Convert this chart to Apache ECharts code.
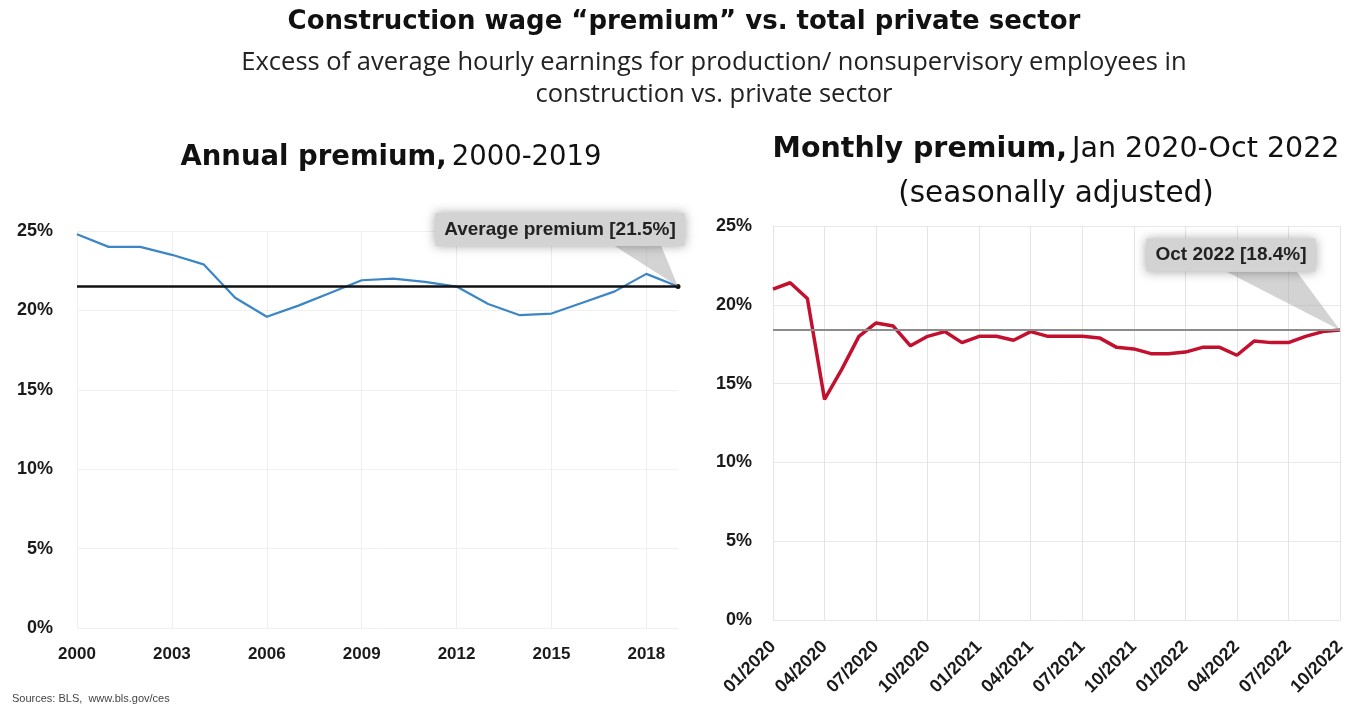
<!DOCTYPE html>
<html>
<head>
<meta charset="utf-8">
<script src="https://cdn.jsdelivr.net/npm/echarts@6/dist/echarts.min.js"></script>
<style>
html,body{margin:0;padding:0;background:#fff;}
#c{width:1362px;height:711px;}
</style>
</head>
<body>
<div id="c"></div>
<script>
// ---- Data ----
const years = ['2000','2001','2002','2003','2004','2005','2006','2007','2008','2009','2010','2011','2012','2013','2014','2015','2016','2017','2018','2019'];
const annualPremium = [24.8,24.0,24.0,23.5,22.9,20.8,19.6,20.3,21.1,21.9,22.0,21.8,21.5,20.4,19.7,19.8,20.5,21.2,22.3,21.5];
const averagePremium = 21.5;

const months = ['01/2020','02/2020','03/2020','04/2020','05/2020','06/2020','07/2020','08/2020','09/2020','10/2020','11/2020','12/2020',
  '01/2021','02/2021','03/2021','04/2021','05/2021','06/2021','07/2021','08/2021','09/2021','10/2021','11/2021','12/2021',
  '01/2022','02/2022','03/2022','04/2022','05/2022','06/2022','07/2022','08/2022','09/2022','10/2022'];
const monthlyPremium = [21.0,21.4,20.4,14.0,15.9,18.0,18.85,18.65,17.4,18.0,18.3,17.6,
  18.0,18.0,17.75,18.3,18.0,18.0,18.0,17.9,17.3,17.2,16.9,16.9,
  17.0,17.3,17.3,16.8,17.7,17.6,17.6,18.0,18.3,18.4];
const latestPremium = 18.4;

const yTicks = [0,5,10,15,20,25];

const chart = echarts.init(document.getElementById('c'));

const axisLabelFont = {fontFamily:'Liberation Sans', fontWeight:'bold', fontSize:17, color:'#1a1a1a'};
const calloutLabel = {
  show:true, color:'#222', fontFamily:'Liberation Sans', fontWeight:'bold', fontSize:19,
  backgroundColor:'#d3d3d3', padding:[7,9,7,9],
  shadowBlur:10, shadowColor:'rgba(0,0,0,0.35)'
};

const option = {
  animation:false,
  backgroundColor:'#fff',
  title:[
    {text:'Construction wage “premium” vs. total private sector', left:679, top:4, textAlign:'center',
     textStyle:{fontFamily:'DejaVu Sans', fontWeight:'bold', fontSize:26, color:'#111'}},
    {text:'Excess of average hourly earnings for production/ nonsupervisory employees in\nconstruction vs. private sector',
     left:709, top:42, textAlign:'center',
     textStyle:{fontFamily:'Open Sans', fontWeight:'normal', fontSize:25.5, lineHeight:32, color:'#222'}},
    {text:'{b|Annual premium,} {r|2000-2019}', left:386, top:139, textAlign:'center',
     textStyle:{rich:{b:{fontFamily:'DejaVu Sans', fontWeight:'bold', fontSize:27.5, color:'#111'},
                      r:{fontFamily:'DejaVu Sans', fontWeight:'normal', fontSize:27.5, color:'#111'}}}},
    {text:'{b|Monthly premium,} {r|Jan 2020-Oct 2022}\n{r2|(seasonally adjusted)}', left:1051, top:123, textAlign:'center',
     textStyle:{rich:{b:{fontFamily:'DejaVu Sans', fontWeight:'bold', fontSize:28.5, color:'#111', lineHeight:44},
                      r:{fontFamily:'DejaVu Sans', fontWeight:'normal', fontSize:28.5, color:'#111', lineHeight:44},
                      r2:{fontFamily:'DejaVu Sans', fontWeight:'normal', fontSize:29.5, color:'#111', lineHeight:44}}}}
  ],
  graphic:[
    {type:'text', left:12, top:693, style:{text:'Sources: BLS,  www.bls.gov/ces', fontFamily:'Liberation Sans', fontSize:11, fill:'#444'}}
  ],
  grid:[
    {left:77, right:684, top:231, bottom:83},
    {left:773, right:22, top:226, bottom:91}
  ],
  xAxis:[
    {type:'category', gridIndex:0, data:years, boundaryGap:false,
     axisLine:{show:false}, axisTick:{show:false},
     axisLabel:Object.assign({interval:2, margin:18}, axisLabelFont),
     splitLine:{show:true, interval:2, lineStyle:{color:'#eeeeee', width:1}}},
    {type:'category', gridIndex:1, data:months, boundaryGap:false,
     axisLine:{show:false}, axisTick:{show:false},
     axisLabel:Object.assign({interval:2, rotate:45, margin:24}, axisLabelFont, {fontSize:18}),
     splitLine:{show:true, interval:2, lineStyle:{color:'#e4e4e4', width:1}}}
  ],
  yAxis:[
    {type:'value', gridIndex:0, min:yTicks[0], max:yTicks[yTicks.length-1], interval:5,
     axisLine:{show:false}, axisTick:{show:false},
     axisLabel:Object.assign({formatter:'{value}%', margin:24}, axisLabelFont, {fontSize:18}),
     splitLine:{show:true, lineStyle:{color:'#f0f0f0', width:1}}},
    {type:'value', gridIndex:1, min:yTicks[0], max:yTicks[yTicks.length-1], interval:5,
     axisLine:{show:false}, axisTick:{show:false},
     axisLabel:Object.assign({formatter:'{value}%', margin:21}, axisLabelFont, {fontSize:18}),
     splitLine:{show:true, lineStyle:{color:'#e8e8e8', width:1}}}
  ],
  series:[
    {type:'line', xAxisIndex:0, yAxisIndex:0, data:annualPremium, showSymbol:false,
     lineStyle:{color:'#3b86c6', width:2.2}, itemStyle:{color:'#3b86c6'},
     markLine:{silent:true, symbol:['none','circle'], symbolSize:5, label:{show:false},
       lineStyle:{color:'#111', width:2.5, type:'solid'},
       data:[{yAxis:averagePremium}]},
     markPoint:{silent:true, z:5,
       data:[
         {coord:[years[years.length-1], averagePremium], symbol:'path://M0 0 L47 0 L64 41 Z',
          symbolSize:[64,41], symbolOffset:[-32,-20.5], itemStyle:{color:'rgba(175,175,175,0.55)'}, label:{show:false}},
         {coord:[years[years.length-1], averagePremium], symbol:'circle', symbolSize:0,
          label:Object.assign({formatter:'Average premium [' + averagePremium + '%]', offset:[-118,-57]}, calloutLabel)}
       ]}
    },
    {type:'line', xAxisIndex:1, yAxisIndex:1, data:monthlyPremium, showSymbol:false,
     lineStyle:{color:'#c3102f', width:3.5}, itemStyle:{color:'#c3102f'},
     markLine:{silent:true, symbol:'none', label:{show:false},
       lineStyle:{color:'#8c8c8c', width:2, type:'solid'},
       data:[{yAxis:latestPremium}]},
     markPoint:{silent:true, z:5,
       data:[
         {coord:[months[months.length-1], latestPremium], symbol:'path://M0 0 L70 0 L113 58 Z',
          symbolSize:[113,58], symbolOffset:[-56.5,-29], itemStyle:{color:'rgba(175,175,175,0.55)'}, label:{show:false}},
         {coord:[months[months.length-1], latestPremium], symbol:'circle', symbolSize:0,
          label:Object.assign({formatter:'Oct 2022 [' + latestPremium + '%]', offset:[-109,-75]}, calloutLabel)}
       ]}
    }
  ]
};
chart.setOption(option);
</script>
</body>
</html>
